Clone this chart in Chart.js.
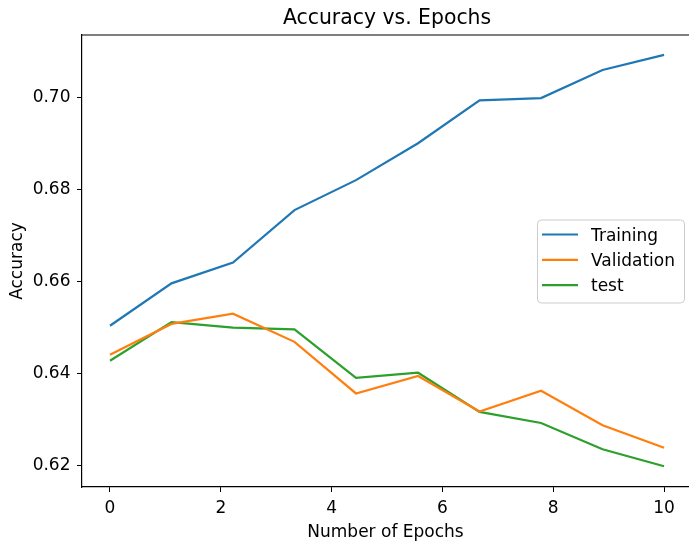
<!DOCTYPE html>
<html>
<head>
<meta charset="utf-8">
<script src="https://cdn.jsdelivr.net/npm/chart.js@4.4.1/dist/chart.umd.min.js"></script>
<style>
html, body { margin: 0; padding: 0; background: #fff; }
</style>
</head>
<body>
<canvas id="chart" width="689" height="544"></canvas>
<script>
// values
const epochs = [0, 1.11, 2.22, 3.33, 4.44, 5.56, 6.67, 7.78, 8.89, 10];
const training = [0.6504, 0.6596, 0.6641, 0.6755, 0.6820, 0.6900, 0.6993, 0.6998, 0.7059, 0.7092];
const validation = [0.6441, 0.6508, 0.6530, 0.6469, 0.6357, 0.6395, 0.6318, 0.6363, 0.6288, 0.6239];
const test = [0.6428, 0.6512, 0.6500, 0.6496, 0.6391, 0.6402, 0.6317, 0.6293, 0.6236, 0.6199];
const xTicks = [0, 2, 4, 6, 8, 10];
const yTicks = [0.62, 0.64, 0.66, 0.68, 0.70];

const FONT = 'DejaVu Sans';
const LABEL_SIZE = 17;

function points(values) {
    return values.map((v, i) => ({ x: epochs[i], y: v }));
}

const framePlugin = {
    id: 'frame',
    afterDraw(chart) {
        const ctx = chart.ctx;
        const area = chart.chartArea;
        ctx.save();
        // top spine
        ctx.strokeStyle = '#000';
        ctx.lineWidth = 1.2;
        ctx.beginPath();
        ctx.moveTo(area.left, area.top);
        ctx.lineTo(area.right, area.top);
        ctx.stroke();

        // title centred on the axes
        ctx.fillStyle = '#000';
        ctx.font = '20.4px "' + FONT + '"';
        ctx.textAlign = 'center';
        ctx.textBaseline = 'alphabetic';
        ctx.fillText('Accuracy vs. Epochs', chart.scales.x.getPixelForValue(5), area.top - 11);

        // legend, centre right
        const sets = chart.data.datasets;
        const boxW = 147, boxH = 83;
        const bx = area.right - 5 - boxW;
        const by = (area.top + area.bottom) / 2 - boxH / 2;
        ctx.beginPath();
        ctx.roundRect(bx + 0.5, by + 0.5, boxW, boxH, 4);
        ctx.fillStyle = 'rgba(255,255,255,0.8)';
        ctx.fill();
        ctx.strokeStyle = '#cccccc';
        ctx.lineWidth = 1;
        ctx.stroke();
        ctx.font = LABEL_SIZE + 'px "' + FONT + '"';
        ctx.textAlign = 'left';
        ctx.textBaseline = 'alphabetic';
        sets.forEach((ds, i) => {
            const y = by + 15 + i * 25.3;
            ctx.strokeStyle = ds.borderColor;
            ctx.lineWidth = 2.2;
            ctx.beginPath();
            ctx.moveTo(bx + 5, y);
            ctx.lineTo(bx + 41, y);
            ctx.stroke();
            ctx.fillStyle = '#000';
            ctx.fillText(ds.label, bx + 54, y + 6);
        });
        ctx.restore();
    }
};

const ctx = document.getElementById('chart').getContext('2d');
const chart = new Chart(ctx, {
    type: 'line',
    data: {
        datasets: [
            { label: 'Training', data: points(training), borderColor: '#1f77b4' },
            { label: 'Validation', data: points(validation), borderColor: '#ff7f0e' },
            { label: 'test', data: points(test), borderColor: '#2ca02c' }
        ]
    },
    options: {
        responsive: false,
        animation: false,
        devicePixelRatio: 1,
        layout: { padding: { top: 35, right: 0, bottom: 0, left: 0 } },
        elements: {
            line: { borderWidth: 2.2, tension: 0, fill: false },
            point: { radius: 0, hoverRadius: 0 }
        },
        plugins: {
            legend: { display: false },
            title: { display: false },
            tooltip: { enabled: false }
        },
        scales: {
            x: {
                type: 'linear',
                min: -0.505,
                max: 10.45,
                afterBuildTicks: scale => { scale.ticks = xTicks.map(v => ({ value: v })); },
                afterFit: scale => { scale.height = 57; },
                grid: { drawOnChartArea: false, drawTicks: true, tickLength: 5, color: '#000', tickWidth: 1 },
                border: { display: true, color: '#000', width: 1.2 },
                ticks: {
                    color: '#000',
                    padding: 6,
                    maxRotation: 0,
                    font: { family: FONT, size: LABEL_SIZE },
                    callback: v => String(v)
                },
                title: {
                    display: true,
                    text: 'Number of Epochs',
                    color: '#000',
                    font: { family: FONT, size: LABEL_SIZE },
                    padding: { top: 0, bottom: 1 }
                }
            },
            y: {
                type: 'linear',
                min: 0.6154,
                max: 0.7135,
                afterBuildTicks: scale => { scale.ticks = yTicks.map(v => ({ value: v })); },
                afterFit: scale => { scale.width = 82; },
                grid: { drawOnChartArea: false, drawTicks: true, tickLength: 5, color: '#000', tickWidth: 1 },
                border: { display: true, color: '#000', width: 1.2 },
                ticks: {
                    color: '#000',
                    padding: 6.5,
                    font: { family: FONT, size: LABEL_SIZE },
                    callback: v => v.toFixed(2)
                },
                title: {
                    display: true,
                    text: 'Accuracy',
                    color: '#000',
                    font: { family: FONT, size: LABEL_SIZE },
                    padding: { top: 7, bottom: 0 }
                }
            }
        }
    },
    plugins: [framePlugin]
});
</script>
</body>
</html>
